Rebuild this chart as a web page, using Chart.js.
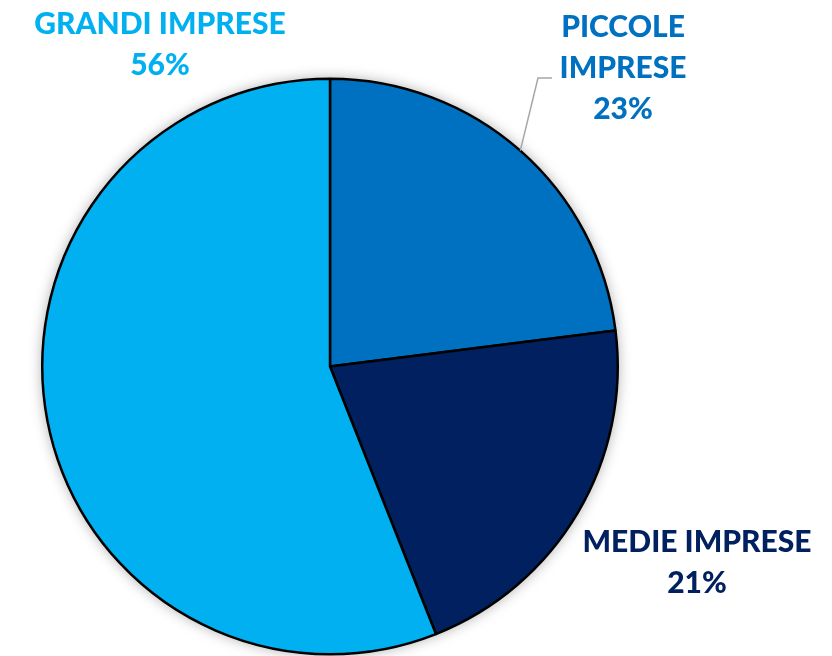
<!DOCTYPE html>
<html>
<head>
<meta charset="utf-8">
<script src="https://cdn.jsdelivr.net/npm/chart.js@4"></script>
<style>
  html, body { margin: 0; padding: 0; background: #fff; }
  #wrap { width: 832px; height: 656px; }
</style>
</head>
<body>
<div id="wrap"><canvas id="myChart"></canvas></div>
<script>
// data
const categories = ['PICCOLE IMPRESE', 'MEDIE IMPRESE', 'GRANDI IMPRESE'];
const shares = [23, 21, 56];
const sliceColors = ['#0070C0', '#002060', '#00B0F0'];

// label text lines + where they sit (centre x, first baseline y)
const labelLines = [['PICCOLE', 'IMPRESE'], ['MEDIE IMPRESE'], ['GRANDI IMPRESE']];
const labelPos = [[623, 37], [697, 552], [160, 34]];

const shadowPlugin = {
  id: 'pieShadow',
  beforeDatasetsDraw(chart) {
    const arc = chart.getDatasetMeta(0).data[0];
    if (!arc) return;
    const ctx = chart.ctx;
    ctx.save();
    ctx.shadowColor = 'rgba(0,0,0,0.35)';
    ctx.shadowBlur = 14;
    ctx.beginPath();
    ctx.arc(arc.x, arc.y, arc.outerRadius, 0, Math.PI * 2);
    ctx.fillStyle = '#fff';
    ctx.fill();
    ctx.restore();
  }
};

const labelPlugin = {
  id: 'sliceLabels',
  afterDatasetsDraw(chart) {
    const ctx = chart.ctx;
    const meta = chart.getDatasetMeta(0);
    ctx.save();
    // leader line for the small top slice
    const a = meta.data[0];
    const mid = (a.startAngle + a.endAngle) / 2;
    const sx = a.x + Math.cos(mid) * a.outerRadius;
    const sy = a.y + Math.sin(mid) * a.outerRadius;
    ctx.strokeStyle = '#a6a6a6';
    ctx.lineWidth = 1.5;
    ctx.beginPath();
    ctx.moveTo(sx, sy);
    ctx.lineTo(538, 78);
    ctx.lineTo(552, 78);
    ctx.stroke();

    ctx.font = '900 30px Lato';
    ctx.textAlign = 'center';
    ctx.textBaseline = 'alphabetic';
    categories.forEach((c, i) => {
      const lines = labelLines[i].concat([shares[i] + '%']);
      ctx.fillStyle = sliceColors[i];
      lines.forEach((t, j) => {
        ctx.fillText(t, labelPos[i][0], labelPos[i][1] + j * 41);
      });
    });
    ctx.restore();
  }
};

new Chart(document.getElementById('myChart'), {
  type: 'pie',
  data: {
    labels: categories,
    datasets: [{
      data: shares,
      backgroundColor: sliceColors,
      borderColor: '#000',
      borderWidth: 2.5
    }]
  },
  options: {
    responsive: true,
    maintainAspectRatio: false,
    animation: false,
    layout: { padding: { left: 41, right: 213, top: 77, bottom: 0 } },
    plugins: {
      legend: { display: false },
      tooltip: { enabled: false }
    }
  },
  plugins: [shadowPlugin, labelPlugin]
});
</script>
</body>
</html>
